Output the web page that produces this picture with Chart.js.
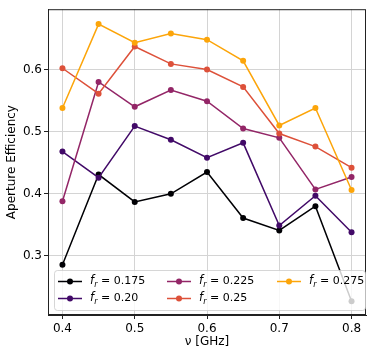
<!DOCTYPE html>
<html>
<head>
<meta charset="utf-8">
<script src="https://cdn.jsdelivr.net/npm/chart.js@4.4.1/dist/chart.umd.min.js"></script>
<style>
  body { margin: 0; background: #fff; }
  #wrap { width: 374px; height: 356px; }
</style>
</head>
<body>
<div id="wrap"><canvas id="grafico" width="374" height="356"></canvas></div>
<script>
// Frequencies (GHz)
const nu = [0.40, 0.45, 0.50, 0.55, 0.60, 0.65, 0.70, 0.75, 0.80];

// Aperture efficiency per f_r
const fr175 = [0.286, 0.431, 0.387, 0.400, 0.435, 0.361, 0.341, 0.380, 0.227];
const fr20  = [0.468, 0.426, 0.509, 0.487, 0.458, 0.482, 0.349, 0.397, 0.338];
const fr225 = [0.388, 0.580, 0.540, 0.567, 0.549, 0.505, 0.490, 0.407, 0.427];
const fr25  = [0.602, 0.561, 0.637, 0.609, 0.600, 0.572, 0.497, 0.476, 0.442];
const fr275 = [0.538, 0.673, 0.643, 0.658, 0.648, 0.614, 0.510, 0.538, 0.406];

const labels = ['0.175', '0.20', '0.225', '0.25', '0.275'];
const series = [fr175, fr20, fr225, fr25, fr275];
const colors = ['#000004', '#420a68', '#932667', '#dd513a', '#fca50a'];

const xTicks = [0.4, 0.5, 0.6, 0.7, 0.8];
const yTicks = [0.3, 0.4, 0.5, 0.6];

const FONT = "'DejaVu Sans', sans-serif";

const datasets = series.map((vals, i) => ({
  label: labels[i],
  data: nu.map((x, j) => ({ x: x, y: vals[j] })),
  borderColor: colors[i],
  backgroundColor: colors[i],
  pointBackgroundColor: colors[i],
  pointBorderWidth: 0,
  pointRadius: 3,
  borderWidth: 1.5,
  tension: 0,
  order: series.length - i   // last series on top, like matplotlib
}));

// top/right spines
const framePlugin = {
  id: 'frame',
  afterDatasetsDraw(chart) {
    const { ctx, chartArea: a } = chart;
    ctx.save();
    ctx.strokeStyle = '#222';
    ctx.lineWidth = 1;
    ctx.strokeRect(a.left + 0.5, a.top + 0.5, a.right - a.left - 1, a.bottom - a.top - 1);
    ctx.restore();
  }
};

// legend in lower part of the axes, semi transparent box
const legendPlugin = {
  id: 'innerLegend',
  afterDraw(chart) {
    const { ctx, chartArea: a } = chart;
    const x0 = a.left + 6, x1 = a.right, y0 = a.bottom - 45, y1 = a.bottom - 5;
    ctx.save();
    ctx.beginPath();
    ctx.roundRect(x0 + 0.5, y0 + 0.5, x1 - x0 - 1, y1 - y0, 3);
    ctx.fillStyle = 'rgba(255,255,255,0.8)';
    ctx.fill();
    ctx.strokeStyle = 'rgba(204,204,204,0.8)';
    ctx.lineWidth = 1;
    ctx.stroke();

    const cols = [a.left + 10, a.left + 119, a.left + 229];
    const rows = [y0 + 11.5, y0 + 28.5];
    labels.forEach((lab, i) => {
      const cx = cols[Math.floor(i / 2)];
      const cy = rows[i % 2];
      ctx.strokeStyle = colors[i];
      ctx.fillStyle = colors[i];
      ctx.lineWidth = 1.5;
      ctx.beginPath();
      ctx.moveTo(cx, cy);
      ctx.lineTo(cx + 24, cy);
      ctx.stroke();
      ctx.beginPath();
      ctx.arc(cx + 12, cy, 3, 0, Math.PI * 2);
      ctx.fill();

      // f_r = value
      let tx = cx + 32;
      ctx.fillStyle = '#000';
      ctx.textBaseline = 'middle';
      ctx.font = 'italic 11.5px ' + FONT;
      ctx.fillText('f', tx, cy);
      tx += ctx.measureText('f').width + 0.2;
      ctx.font = 'italic 8px ' + FONT;
      ctx.fillText('r', tx, cy + 3);
      tx += ctx.measureText('r').width + 3.5;
      ctx.font = '11px ' + FONT;
      ctx.fillText('=', tx, cy);
      tx += ctx.measureText('=').width + 3.5;
      ctx.fillText(lab, tx, cy);
    });
    ctx.restore();
  }
};

const ctx = document.getElementById('grafico').getContext('2d');
new Chart(ctx, {
  type: 'line',
  data: { datasets: datasets },
  options: {
    responsive: false,
    animation: false,
    layout: { padding: { left: 0, top: 5, right: 8, bottom: 0 } },
    plugins: {
      legend: { display: false },
      tooltip: { enabled: false }
    },
    scales: {
      x: {
        type: 'linear',
        min: 0.38,
        max: 0.82,
        afterBuildTicks: s => { s.ticks = xTicks.map(v => ({ value: v })); },
        afterFit: s => { s.height = 41; },
        ticks: {
          color: '#000',
          font: { family: FONT, size: 12 },
          padding: 3,
          maxRotation: 0,
          callback: v => v.toFixed(1)
        },
        grid: { color: '#d4d4d4', lineWidth: 1, tickColor: '#222', tickLength: 4 },
        border: { display: true, color: '#222', width: 1 },
        title: {
          display: true,
          text: 'ν [GHz]',
          color: '#000',
          font: { family: FONT, size: 12 },
          padding: { top: 0, bottom: 6.5 }
        }
      },
      y: {
        min: 0.205,
        max: 0.697,
        afterBuildTicks: s => { s.ticks = yTicks.map(v => ({ value: v })); },
        afterFit: s => { s.width = 48; },
        ticks: {
          color: '#000',
          font: { family: FONT, size: 12 },
          padding: 2,
          callback: v => v.toFixed(1)
        },
        grid: { color: '#d4d4d4', lineWidth: 1, tickColor: '#222', tickLength: 4 },
        border: { display: true, color: '#222', width: 1 },
        title: {
          display: true,
          text: 'Aperture Efficiency',
          color: '#000',
          font: { family: FONT, size: 12 },
          padding: { top: 5, bottom: 0 }
        }
      }
    }
  },
  plugins: [framePlugin, legendPlugin]
});
</script>
</body>
</html>
